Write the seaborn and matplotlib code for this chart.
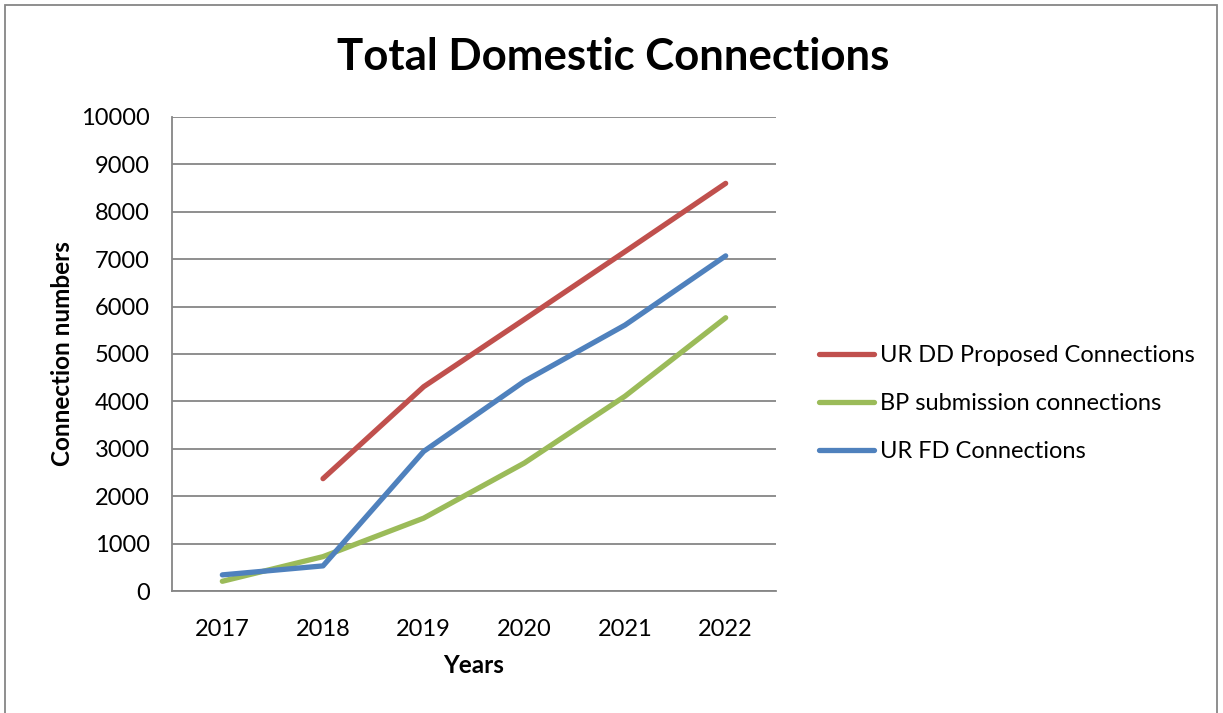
import numpy as np
import pandas as pd
import matplotlib
matplotlib.use("Agg")
import matplotlib.pyplot as plt
import seaborn as sns
from matplotlib.patches import Rectangle
from matplotlib.lines import Line2D

years = [2017, 2018, 2019, 2020, 2021, 2022]
ur_dd_proposed = [np.nan, 2370, 4310, 5730, 7160, 8600]
bp_submission = [205, 725, 1537, 2700, 4110, 5765]
ur_fd = [340, 530, 2945, 4425, 5610, 7070]
series_names = ["UR DD Proposed Connections", "BP submission connections", "UR FD Connections"]
colors = ["#C0504D", "#9BBB59", "#4F81BD"]
y_ticks = [0, 1000, 2000, 3000, 4000, 5000, 6000, 7000, 8000, 9000, 10000]

frames = []
for name, vals in zip(series_names, [ur_dd_proposed, bp_submission, ur_fd]):
    frames.append(pd.DataFrame({"Year": years, "Value": vals, "Series": name}))
df = pd.concat(frames, ignore_index=True).dropna()

sns.set_style("white")
plt.rcParams["font.family"] = ["Lato", "DejaVu Sans"]
plt.rcParams["text.color"] = "black"
plt.rcParams["axes.labelcolor"] = "black"
plt.rcParams["xtick.color"] = "black"
plt.rcParams["ytick.color"] = "black"

W, H = 1223, 713
fig = plt.figure(figsize=(W / 100, H / 100), dpi=100)
# plot area in pixels: x 172..776, y 117..591
ax = fig.add_axes([172 / W, 1 - 591 / H, (776 - 172) / W, (591 - 117) / H])

sns.lineplot(data=df, x="Year", y="Value", hue="Series", hue_order=series_names,
             palette=colors, linewidth=3.8, ax=ax, legend=False, sort=False,
             solid_capstyle="round", solid_joinstyle="round")

ax.set_xlim(2016.5, 2022.5)
ax.set_ylim(0, 10000)
ax.set_yticks(y_ticks)
ax.set_yticklabels([str(v) for v in y_ticks], fontsize=17)
ax.yaxis.grid(True, color="#868686", linewidth=1.3)
ax.set_axisbelow(True)

# category ticks: labels at centres, tick marks at boundaries
ax.set_xticks(years)
ax.set_xticklabels([str(y) for y in years], fontsize=17)
ax.tick_params(axis="x", which="major", length=0, pad=20)
ax.set_xticks([y + 0.5 for y in [2016] + years], minor=True)
ax.tick_params(axis="x", which="minor", length=7, width=1.3, color="#868686", direction="out")
ax.tick_params(axis="y", which="major", length=7, width=1.3, color="#868686",
               labelcolor="black", direction="out", pad=9)

for side in ["top", "right"]:
    ax.spines[side].set_visible(False)
for side in ["left", "bottom"]:
    ax.spines[side].set_color("#868686")
    ax.spines[side].set_linewidth(1.3)

ax.set_xlabel("Years", fontsize=17.5, fontweight="bold", labelpad=10)
ax.set_ylabel("Connection numbers", fontsize=17.5, fontweight="bold", labelpad=5)

fig.text(613 / W, 1 - 57 / H, "Total Domestic Connections", fontsize=31.5,
         fontweight="bold", ha="center", va="center", color="black")

# legend
handles = [Line2D([0], [0], color=c, linewidth=3.8, solid_capstyle="round") for c in colors]
leg = fig.legend(handles, series_names, loc="upper left",
                 bbox_to_anchor=(810 / W, 1 - 336 / H), frameon=False, fontsize=17,
                 handlelength=2.3, handletextpad=0.25, labelspacing=1.13, borderaxespad=0)

# chart frame
fig.patches.append(Rectangle((5 / W, -0.1), (1212 / W), 1 - 5.5 / H + 0.1,
                             transform=fig.transFigure, fill=False,
                             edgecolor="#868686", linewidth=1.3))

fig.savefig("out.png", dpi=100, facecolor="white")
